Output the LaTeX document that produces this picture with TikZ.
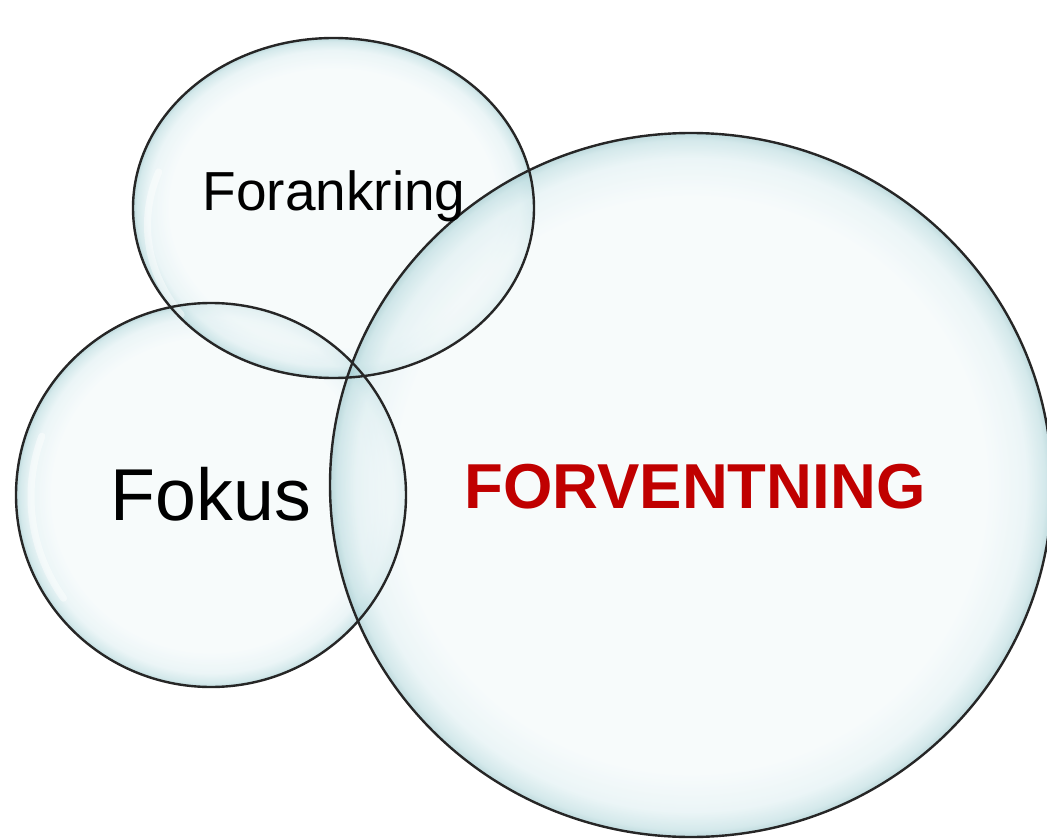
\documentclass[tikz,border=0pt]{standalone}
\usepackage{fontspec}
\setmainfont{Liberation Sans}
% glassy bubble: pale centre, tinted rim (path edge sits at 25bp)
\pgfdeclareradialshading{bubble}{\pgfpoint{0bp}{0bp}}{%
  rgb(0bp)=(0.945,0.972,0.976);
  rgb(20.5bp)=(0.945,0.972,0.976);
  rgb(23.2bp)=(0.87,0.935,0.945);
  rgb(24.5bp)=(0.72,0.855,0.87);
  rgb(25bp)=(0.58,0.76,0.78);
  rgb(50bp)=(0.58,0.76,0.78)}
\definecolor{textred}{RGB}{192,0,0}
\tikzset{
  bubblefill/.style={shading=bubble, fill opacity=0.6},
  rim/.style={draw=black!85, line width=2.4pt},
  shine/.style={draw=white, line width=7pt, opacity=0.45, line cap=round},
  label/.style={anchor=base, inner sep=0pt, text=black}
}
\begin{document}
\begin{tikzpicture}[x=1pt,y=-1pt]
\useasboundingbox (0,0) rectangle (1047,840);

% bubble fills
\shade[bubblefill] (211,495) ellipse [x radius=195, y radius=192];
\shade[bubblefill] (333.5,208) ellipse [x radius=200.5, y radius=170];
\shade[bubblefill] (691,485) ellipse [x radius=361, y radius=352];

% soft highlights on the upper-left of each bubble
\draw[shine] (211,495) ++(145:180) arc[start angle=145, end angle=200, x radius=180, y radius=177];
\draw[shine] (333.5,208) ++(145:186) arc[start angle=145, end angle=200, x radius=186, y radius=156];

% bubble rims
\draw[rim] (211,495) ellipse [x radius=195, y radius=192];
\draw[rim] (333.5,208) ellipse [x radius=200.5, y radius=170];
\draw[rim] (691,485) ellipse [x radius=361, y radius=352];

% labels
\node[label, font=\fontsize{55}{60}\selectfont] (forankring) at (334,210) {Forankring};
\node[label, font=\fontsize{73.5}{80}\selectfont] (fokus) at (211,520) {Fokus};
\node[label, font=\bfseries\fontsize{63.5}{70}\selectfont, text=textred] (forventning) at (695,508) {FORVENTNING};
\end{tikzpicture}
\end{document}
